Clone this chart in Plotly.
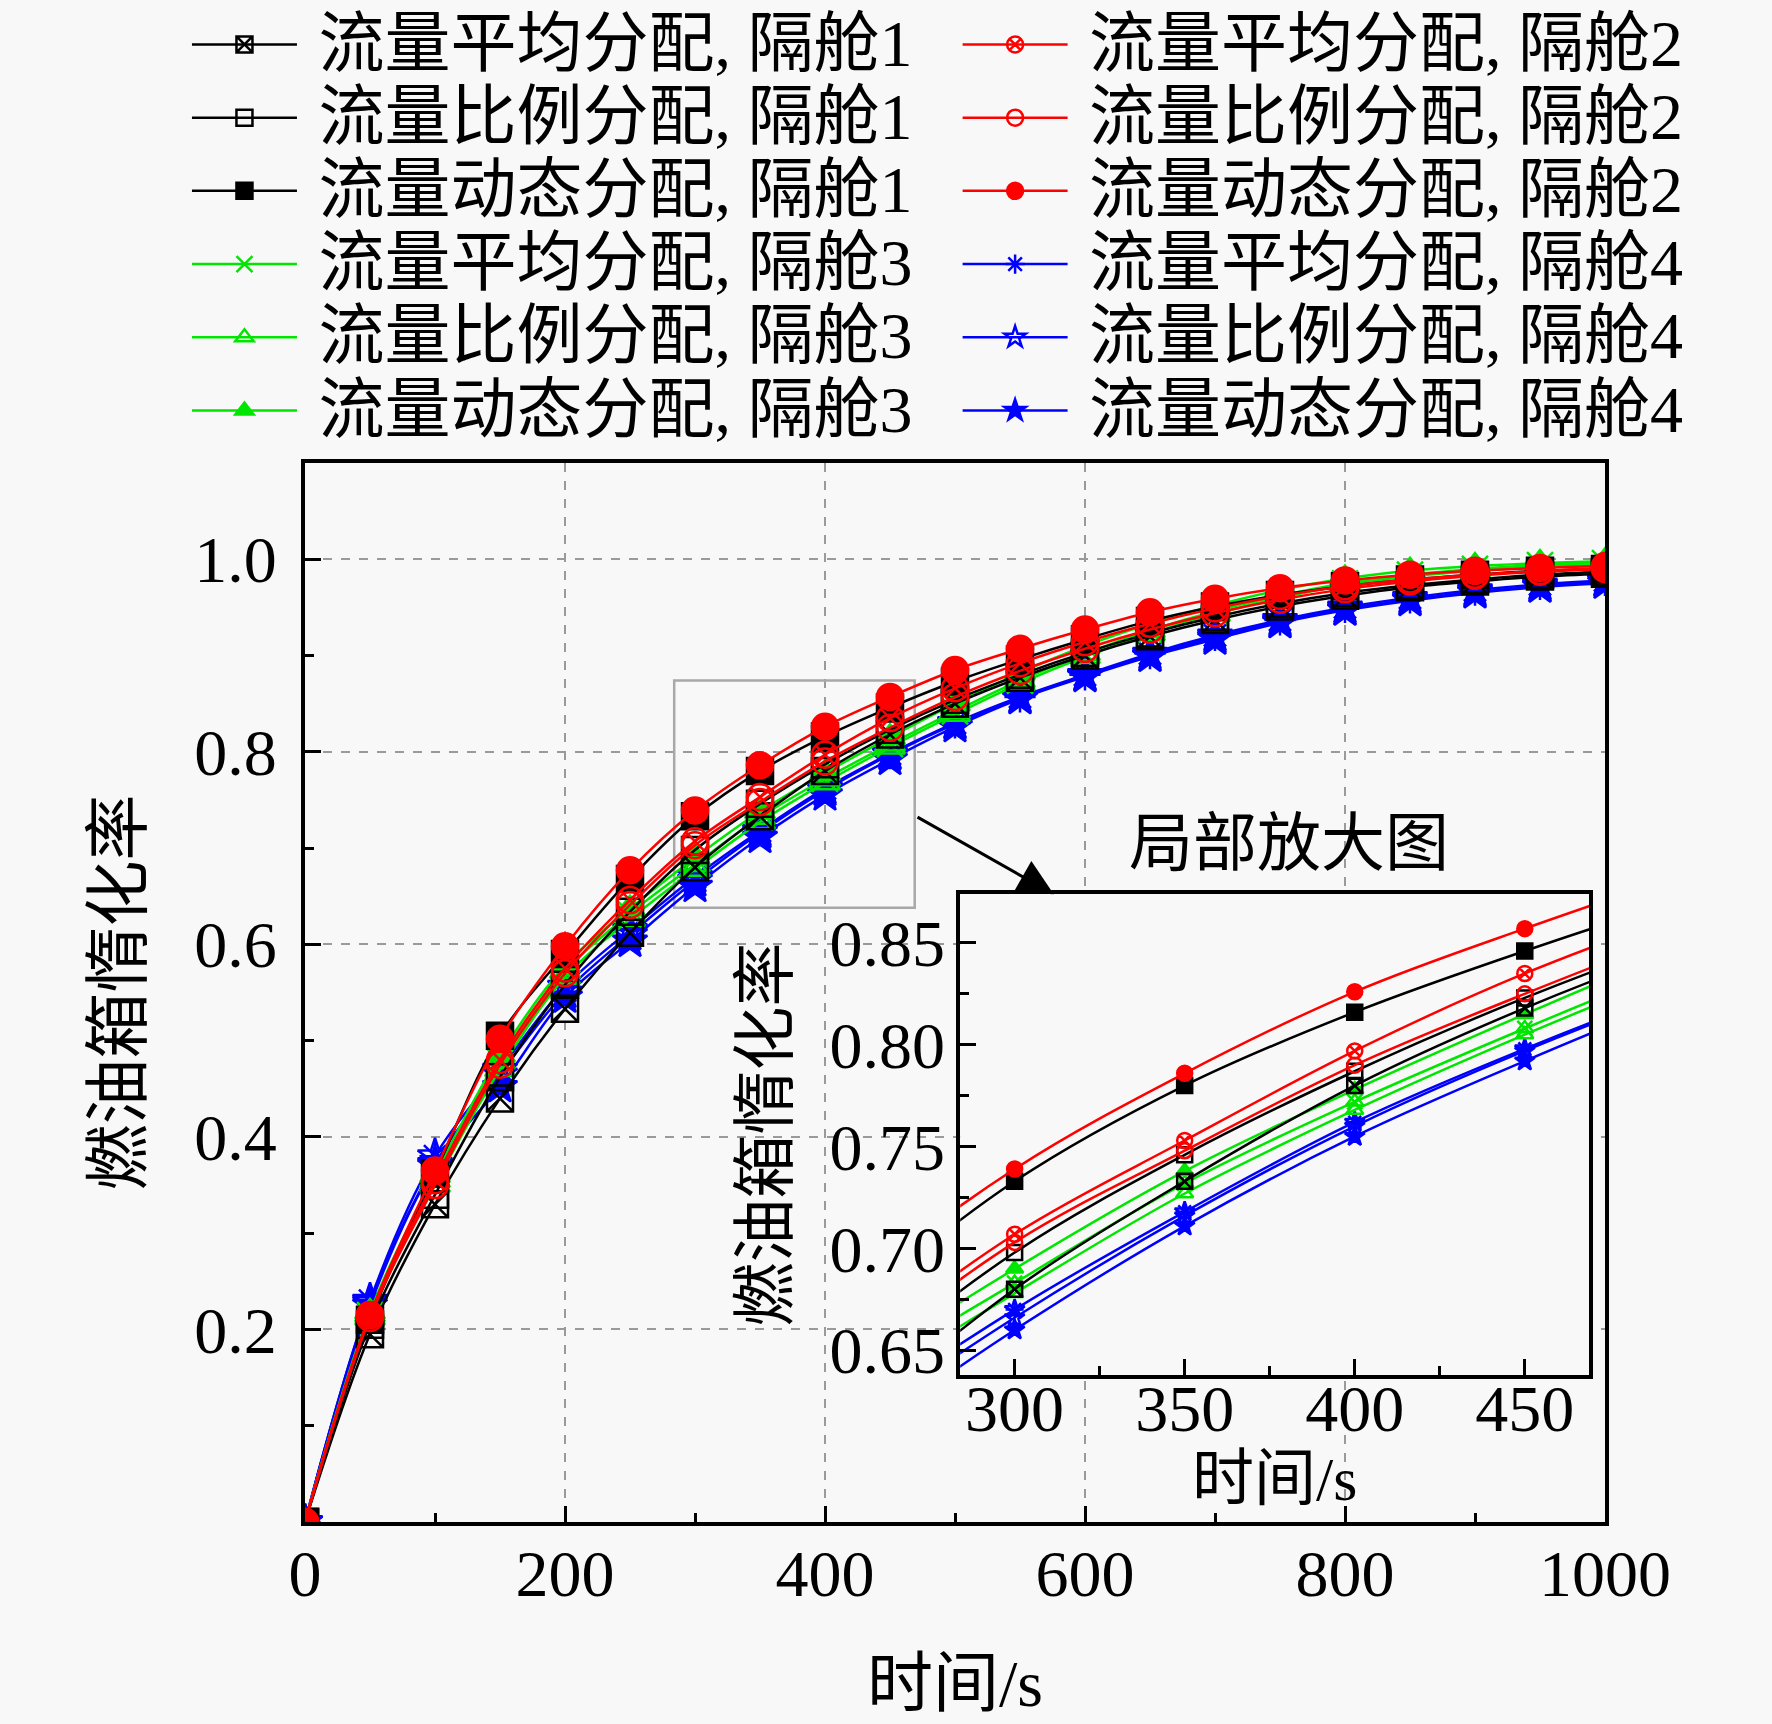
import plotly.graph_objects as go

# time axis (s)
time_s = [0, 50, 100, 150, 200, 250, 300, 350, 400, 450, 500,
          550, 600, 650, 700, 750, 800, 850, 900, 950, 1000]

# inerting ratio, compartment 1 (black)
avg_c1 = [0, 0.195, 0.330, 0.440, 0.533, 0.612, 0.680, 0.733, 0.780, 0.818, 0.850,
          0.877, 0.900, 0.920, 0.937, 0.951, 0.962, 0.971, 0.977, 0.982, 0.985]
prop_c1 = [0, 0.205, 0.340, 0.462, 0.558, 0.634, 0.698, 0.746, 0.787, 0.823, 0.854,
           0.880, 0.903, 0.923, 0.940, 0.954, 0.965, 0.973, 0.979, 0.984, 0.987]
dyn_c1 = [0, 0.210, 0.362, 0.505, 0.590, 0.668, 0.733, 0.780, 0.816, 0.846, 0.873,
          0.896, 0.917, 0.936, 0.951, 0.963, 0.972, 0.979, 0.984, 0.988, 0.990]
# compartment 2 (red)
avg_c2 = [0, 0.215, 0.355, 0.480, 0.575, 0.646, 0.707, 0.753, 0.797, 0.835, 0.866,
          0.892, 0.914, 0.933, 0.949, 0.962, 0.972, 0.979, 0.984, 0.988, 0.991]
prop_c2 = [0, 0.212, 0.350, 0.475, 0.570, 0.641, 0.703, 0.748, 0.790, 0.825, 0.857,
           0.884, 0.907, 0.927, 0.944, 0.958, 0.969, 0.977, 0.983, 0.987, 0.990]
dyn_c2 = [0, 0.215, 0.365, 0.502, 0.598, 0.677, 0.739, 0.786, 0.826, 0.857, 0.885,
          0.907, 0.927, 0.945, 0.959, 0.970, 0.978, 0.984, 0.988, 0.991, 0.993]
# compartment 3 (green)
avg_c3 = [0, 0.215, 0.355, 0.478, 0.572, 0.632, 0.683, 0.732, 0.772, 0.808, 0.842,
          0.874, 0.902, 0.926, 0.946, 0.962, 0.975, 0.984, 0.990, 0.994, 0.996]
prop_c3 = [0, 0.212, 0.350, 0.470, 0.566, 0.626, 0.678, 0.727, 0.768, 0.805, 0.839,
           0.871, 0.899, 0.923, 0.943, 0.960, 0.973, 0.982, 0.988, 0.992, 0.994]
dyn_c3 = [0, 0.218, 0.360, 0.485, 0.578, 0.637, 0.690, 0.738, 0.778, 0.815, 0.850,
          0.882, 0.910, 0.933, 0.952, 0.968, 0.980, 0.988, 0.993, 0.996, 0.998]
# compartment 4 (blue)
avg_c4 = [0, 0.230, 0.380, 0.470, 0.556, 0.615, 0.670, 0.718, 0.762, 0.798, 0.830,
          0.857, 0.880, 0.902, 0.921, 0.937, 0.950, 0.960, 0.968, 0.974, 0.978]
prop_c4 = [0, 0.228, 0.372, 0.465, 0.550, 0.610, 0.666, 0.716, 0.760, 0.797, 0.829,
           0.856, 0.879, 0.900, 0.919, 0.935, 0.948, 0.958, 0.966, 0.972, 0.977]
dyn_c4 = [0, 0.225, 0.370, 0.452, 0.545, 0.603, 0.660, 0.711, 0.755, 0.792, 0.826,
          0.855, 0.878, 0.899, 0.917, 0.934, 0.947, 0.957, 0.965, 0.971, 0.975]

names = ["流量平均分配, 隔舱1", "流量比例分配, 隔舱1", "流量动态分配, 隔舱1",
         "流量平均分配, 隔舱2", "流量比例分配, 隔舱2", "流量动态分配, 隔舱2",
         "流量平均分配, 隔舱3", "流量比例分配, 隔舱3", "流量动态分配, 隔舱3",
         "流量平均分配, 隔舱4", "流量比例分配, 隔舱4", "流量动态分配, 隔舱4"]

main_yticks = [0.2, 0.4, 0.6, 0.8, 1.0]
main_yminor = [0.1, 0.3, 0.5, 0.7, 0.9]
zoom_xrange = [284, 469]
zoom_yrange = [0.638, 0.874]
zoom_xticks = [300, 350, 400, 450]
zoom_xminor = [325, 375, 425]
zoom_yticks = [0.65, 0.70, 0.75, 0.80, 0.85]
zoom_yminor = [0.675, 0.725, 0.775, 0.825]

FONT = "Liberation Serif, Noto Sans CJK SC, serif"
BG = "#f8f8f8"
BLACK, RED, GREEN, BLUE = "#000000", "#ff0000", "#00e600", "#0000ff"

# drawing order: blue, green, black, red (red on top)
# (name, values, colour, symbol, overlay symbol, legend, rank)
styles = [
    (names[9], avg_c4, BLUE, "asterisk-open", "star-open", "legend2", 4),
    (names[10], prop_c4, BLUE, "star-open", None, "legend2", 5),
    (names[11], dyn_c4, BLUE, "star", None, "legend2", 6),
    (names[6], avg_c3, GREEN, "x-thin-open", "triangle-up-open", "legend", 4),
    (names[7], prop_c3, GREEN, "triangle-up-open", None, "legend", 5),
    (names[8], dyn_c3, GREEN, "triangle-up", None, "legend", 6),
    (names[0], avg_c1, BLACK, "square-x-open", None, "legend", 1),
    (names[1], prop_c1, BLACK, "square-open", None, "legend", 2),
    (names[2], dyn_c1, BLACK, "square", None, "legend", 3),
    (names[3], avg_c2, RED, "circle-x-open", None, "legend2", 1),
    (names[4], prop_c2, RED, "circle-open", None, "legend2", 2),
    (names[5], dyn_c2, RED, "circle", None, "legend2", 3),
]

fig = go.Figure()
for name, vals, color, sym, extra, leg, rank in styles:
    label = '<span style="font-size:66px">\u00a0' + name + '</span>'
    for xa, ya, msize, show in (("x", "y", 26, True), ("x2", "y2", 15, False)):
        fig.add_trace(go.Scatter(
            x=time_s, y=vals, name=label, mode="lines+markers",
            line=dict(color=color, width=2.5, shape="spline"),
            marker=dict(symbol=sym, size=msize, color=color,
                        line=dict(color=color, width=2.5)),
            xaxis=xa, yaxis=ya, showlegend=show, legend=leg, legendrank=rank,
            hoverinfo="skip"))
        if extra:
            fig.add_trace(go.Scatter(
                x=time_s, y=vals, mode="markers", showlegend=False,
                marker=dict(symbol=extra, size=msize, color=color,
                            line=dict(color=color, width=2.5)),
                xaxis=xa, yaxis=ya, hoverinfo="skip"))

axis_common = dict(showline=True, linewidth=4, linecolor="black", mirror=True,
                   ticks="inside", ticklen=16, tickwidth=3, tickcolor="black",
                   zeroline=False, tickfont=dict(size=66, family=FONT))

legend_common = dict(xanchor="left", yanchor="top", y=1.4345, bgcolor="rgba(0,0,0,0)",
                     font=dict(size=54, family=FONT), itemwidth=105,
                     traceorder="normal")

fig.update_layout(
    width=1772, height=1724,
    paper_bgcolor=BG, plot_bgcolor=BG,
    margin=dict(l=305, r=167, t=463, b=202, autoexpand=False),
    font=dict(family=FONT, size=62, color="black"),
    legend=dict(x=-0.0908, **legend_common),
    legend2=dict(x=0.502, **legend_common),
    xaxis=dict(range=[0, 1000], tick0=0, dtick=200,
               minor=dict(dtick=100, ticks="inside", ticklen=9, tickwidth=2.5),
               showgrid=True, gridcolor="#9a9a9a", gridwidth=1.5, griddash="dash",
               ticklabelstandoff=-9,
               title=dict(text="时间/s", standoff=52, font=dict(size=66)),
               **axis_common),
    yaxis=dict(range=[0, 1.1], tickvals=main_yticks, tickformat=".1f",
               minor=dict(tickvals=main_yminor, ticks="inside", ticklen=9, tickwidth=2.5),
               showgrid=True, gridcolor="#9a9a9a", gridwidth=1.5, griddash="dash",
               ticklabelstandoff=11,
               title=dict(text="燃油箱惰化率", standoff=32, font=dict(size=66)),
               **axis_common),
    xaxis2=dict(domain=[0.504, 0.988], anchor="y2", range=zoom_xrange,
                tickvals=zoom_xticks,
                minor=dict(tickvals=zoom_xminor, ticks="inside", ticklen=9, tickwidth=2.5),
                showgrid=False, ticklabelstandoff=-27,
                title=dict(text="时间/s", standoff=2, font=dict(size=62)),
                **axis_common),
    yaxis2=dict(domain=[0.139, 0.593], anchor="x2", range=zoom_yrange,
                tickvals=zoom_yticks, tickformat=".2f",
                minor=dict(tickvals=zoom_yminor, ticks="inside", ticklen=9, tickwidth=2.5),
                showgrid=False, ticklabelstandoff=-2,
                title=dict(text="燃油箱惰化率", standoff=22, font=dict(size=64)),
                **axis_common),
    shapes=[dict(type="rect", xref="x", yref="y",
                 x0=zoom_xrange[0], x1=zoom_xrange[1],
                 y0=zoom_yrange[0], y1=zoom_yrange[1],
                 line=dict(color="#a8a8a8", width=2.5), layer="between")],
    annotations=[
        dict(x=576, y=0.652, ax=470, ay=0.733, xref="x", yref="y",
             axref="x", ayref="y", text="", showarrow=True,
             arrowhead=2, arrowsize=2.4, arrowwidth=3, arrowcolor="black"),
        dict(x=757, y=0.705, xref="x", yref="y", text="局部放大图",
             showarrow=False, font=dict(size=64, family=FONT)),
    ],
)

fig.write_html("out.html", config={"displayModeBar": False},
               post_script="document.body.style.margin='0px';")
